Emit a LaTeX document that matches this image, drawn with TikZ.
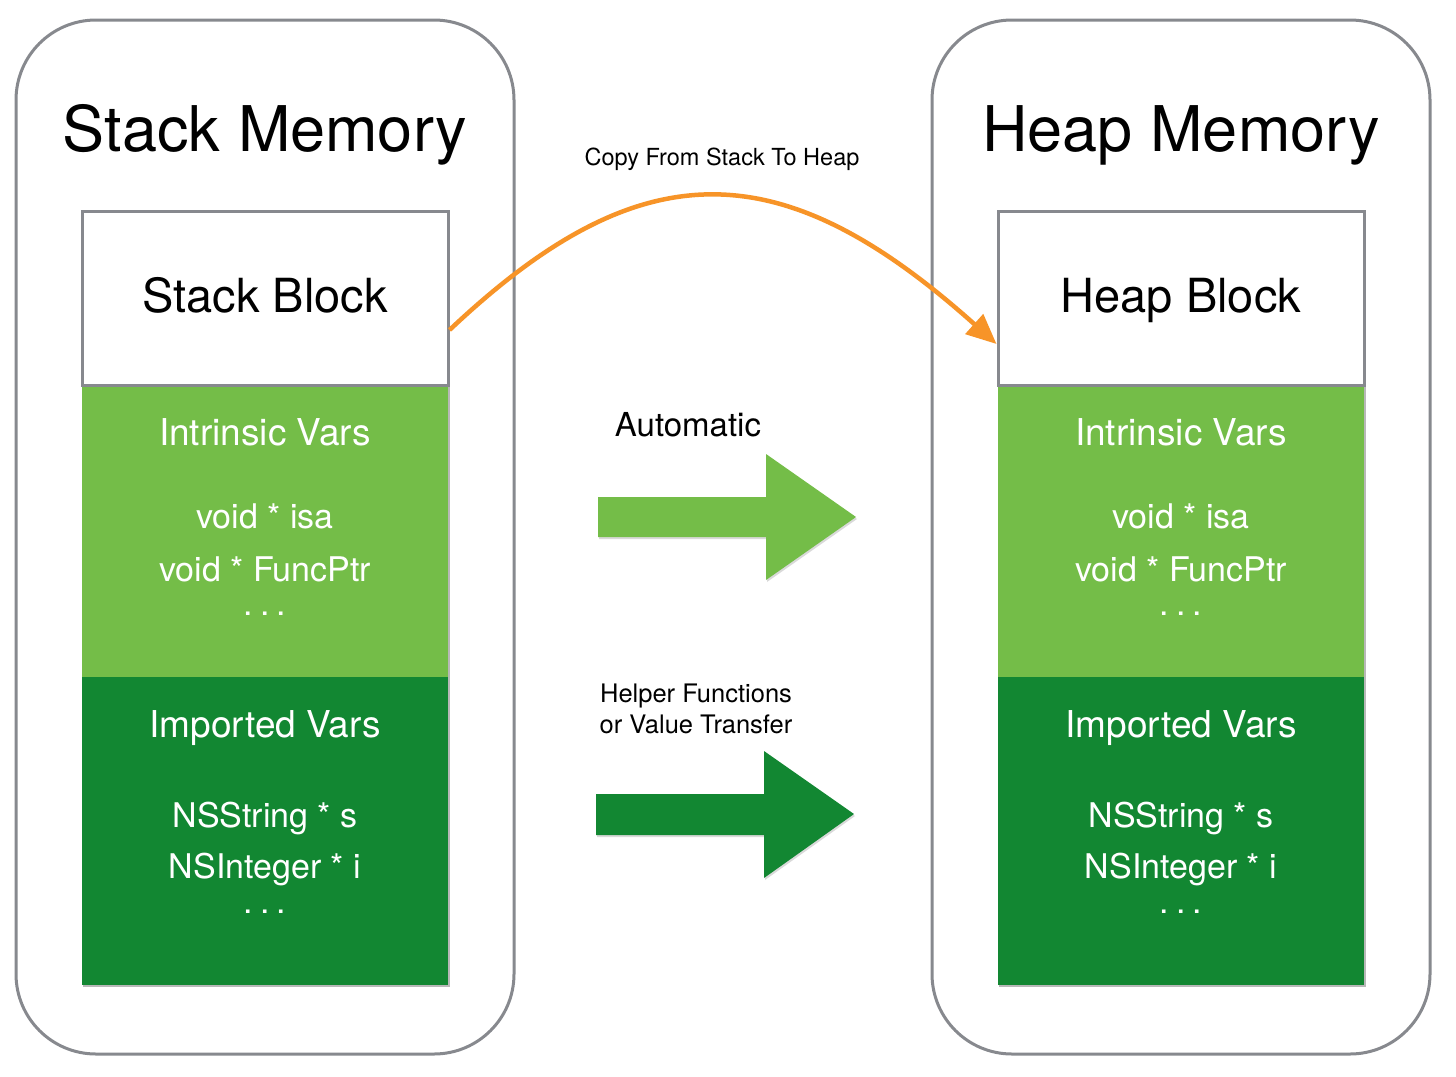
\documentclass[tikz,border=0pt]{standalone}
\usepackage{fontspec}
\setmainfont{TeX Gyre Heros}
\usetikzlibrary{arrows.meta}
\definecolor{framegray}{RGB}{135,137,142}
\definecolor{lgreen}{RGB}{116,189,72}
\definecolor{dgreen}{RGB}{18,135,50}
\definecolor{orangec}{RGB}{247,148,40}
\newcommand{\threedots}{.\hspace{7pt}.\hspace{7pt}.}
\begin{document}
\begin{tikzpicture}[x=1pt,y=-1pt,
  memorybox/.style={draw=framegray, line width=3pt, rounded corners=80pt, minimum width=498pt, minimum height=1034pt, inner sep=0pt},
  hdrbox/.style={draw=framegray, line width=3pt, fill=white, minimum width=366pt, minimum height=174pt, inner sep=0pt},
  greenbox/.style={inner sep=0pt, minimum width=366pt},
  shadowfill/.style={fill=black, opacity=.28},
  titletxt/.style={anchor=base, font=\fontsize{63}{70}\selectfont, text=black, inner sep=0pt},
  blocktxt/.style={anchor=base, font=\fontsize{47}{54}\selectfont, text=black, inner sep=0pt},
  headtxt/.style={anchor=base, font=\fontsize{37}{44}\selectfont, text=white, inner sep=0pt},
  vartxt/.style={anchor=base, font=\fontsize{34}{40}\selectfont, text=white, inner sep=0pt},
  smalltxt/.style={anchor=base, font=\fontsize{23.5}{28}\selectfont, text=black, inner sep=0pt},
  midtxt/.style={anchor=base, font=\fontsize{25.5}{32}\selectfont, text=black, inner sep=0pt},
  autotxt/.style={anchor=base, font=\fontsize{33}{40}\selectfont, text=black, inner sep=0pt}
]
\useasboundingbox (0,0) rectangle (1456,1076);
\fill[white] (0,0) rectangle (1456,1076);

% outer memory regions
\node[memorybox] (stackmem) at (265,537) {};
\node[memorybox] (heapmem) at (1181,537) {};

% shadows under the green parts
\fill[shadowfill] (83,387) rectangle (450,987);
\fill[shadowfill] (999,387) rectangle (1366,987);

% stack block
\node[greenbox, fill=lgreen, minimum height=292pt] (stackiv) at (265,531) {};
\node[greenbox, fill=dgreen, minimum height=308pt] (stackimp) at (265,831) {};
\node[hdrbox] (stackhdr) at (265,298) {};

% heap block
\node[greenbox, fill=lgreen, minimum height=292pt] (heapiv) at (1181,531) {};
\node[greenbox, fill=dgreen, minimum height=308pt] (heapimp) at (1181,831) {};
\node[hdrbox] (heaphdr) at (1181,298) {};

% titles
\node[titletxt] (stacktitle) at (265,151) {Stack Memory};
\node[titletxt] (heaptitle) at (1181,151) {Heap Memory};

\node[blocktxt] (stackblk) at (265,312) {Stack Block};
\node[blocktxt] (heapblk) at (1181,312) {Heap Block};

% stack contents
\node[headtxt] (siv) at (265,445) {Intrinsic Vars};
\node[vartxt] (sisa) at (265,528) {void * isa};
\node[vartxt] (sfp) at (265,581) {void * FuncPtr};
\node[vartxt] (sdots1) at (265,615) {\threedots};
\node[headtxt] (simp) at (265,737) {Imported Vars};
\node[vartxt] (sstr) at (265,827) {NSString * s};
\node[vartxt] (sint) at (265,878) {NSInteger * i};
\node[vartxt] (sdots2) at (265,913) {\threedots};

% heap contents
\node[headtxt] (hiv) at (1181,445) {Intrinsic Vars};
\node[vartxt] (hisa) at (1181,528) {void * isa};
\node[vartxt] (hfp) at (1181,581) {void * FuncPtr};
\node[vartxt] (hdots1) at (1181,615) {\threedots};
\node[headtxt] (himp) at (1181,737) {Imported Vars};
\node[vartxt] (hstr) at (1181,827) {NSString * s};
\node[vartxt] (hint) at (1181,878) {NSInteger * i};
\node[vartxt] (hdots2) at (1181,913) {\threedots};

% middle labels
\node[smalltxt] (copylbl) at (722,165) {Copy From Stack To Heap};
\node[autotxt] (autolbl) at (688,436) {Automatic};
\node[midtxt] (helper1) at (696,702) {Helper Functions};
\node[midtxt] (helper2) at (696,733) {or Value Transfer};

% big arrows (with faint shadow)
\fill[black, opacity=.15] (599,499) -- (767,499) -- (767,456) -- (857,519) -- (767,582) -- (767,539) -- (599,539) -- cycle;
\fill[lgreen] (598,497) -- (766,497) -- (766,454) -- (856,517) -- (766,580) -- (766,537) -- (598,537) -- cycle;
\fill[black, opacity=.15] (597,796) -- (765,796) -- (765,753) -- (855,816) -- (765,880) -- (765,837) -- (597,837) -- cycle;
\fill[dgreen] (596,794) -- (764,794) -- (764,751) -- (854,814) -- (764,878) -- (764,835) -- (596,835) -- cycle;

% orange copy arrow
\draw[orangec, line width=4.5pt, -{Triangle[length=30pt,width=26pt]}]
  ([yshift=-32pt]stackhdr.east) .. controls (640,150) and (780,150) .. ([yshift=-46pt]heaphdr.west);
\end{tikzpicture}
\end{document}
